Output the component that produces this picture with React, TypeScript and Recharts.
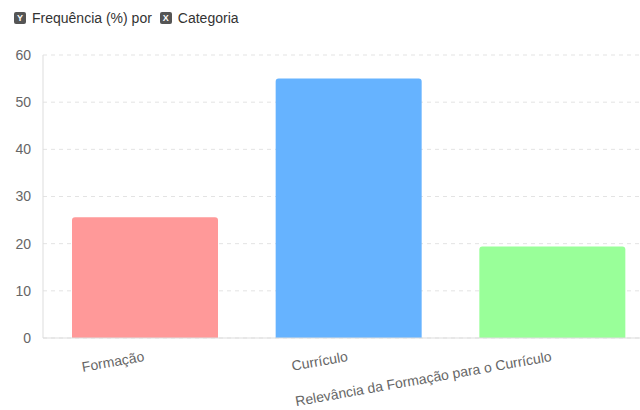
import { BarChart, Bar, XAxis, YAxis, CartesianGrid, Cell } from 'recharts';

const categories = ['Formação', 'Currículo', 'Relevância da Formação para o Currículo'];
const frequencies = [25.6, 55.0, 19.4];
const barColors = ['#ff9999', '#66b3ff', '#99ff99'];
const yTicks = [0, 10, 20, 30, 40, 50, 60];

const data = categories.map((name, i) => ({ name, value: frequencies[i] }));

const FONT = '"Liberation Sans", Arial, sans-serif';

function AxisBadge({ letter }: { letter: string }) {
  return (
    <span
      style={{
        display: 'inline-block',
        width: 12,
        height: 12,
        lineHeight: '12px',
        borderRadius: 2,
        background: '#555',
        color: '#fff',
        fontSize: 9,
        fontWeight: 'bold',
        textAlign: 'center',
        verticalAlign: 'middle',
        marginRight: 6,
      }}
    >
      {letter}
    </span>
  );
}

function SlantedTick(props: any) {
  const { x, y, payload } = props;
  return (
    <g transform={`translate(${x},${y + 15}) rotate(-10)`}>
      <text x={0} y={0} textAnchor="end" fill="#666" fontSize={14} fontFamily={FONT}>
        {payload.value}
      </text>
    </g>
  );
}

export default function App() {
  return (
    <div
      style={{
        position: 'absolute',
        left: 0,
        top: 0,
        width: 640,
        height: 410,
        overflow: 'hidden',
        background: '#fff',
        fontFamily: FONT,
      }}
    >
      <div
        style={{
          position: 'absolute',
          left: 14,
          top: 9,
          fontSize: 14,
          color: '#333',
          whiteSpace: 'nowrap',
        }}
      >
        <AxisBadge letter="Y" />
        <span style={{ verticalAlign: 'middle', marginRight: 8 }}>Frequência (%) por</span>
        <AxisBadge letter="X" />
        <span style={{ verticalAlign: 'middle' }}>Categoria</span>
      </div>
      <BarChart
        width={654}
        height={410}
        data={data}
        margin={{ top: 55, right: 0, bottom: 0, left: 0 }}
      >
        <CartesianGrid vertical={false} stroke="#e3e3e3" strokeDasharray="4 4" />
        <XAxis
          dataKey="name"
          interval={0}
          height={72}
          tickLine={false}
          axisLine={{ stroke: '#ddd' }}
          tick={<SlantedTick />}
        />
        <YAxis
          width={43}
          domain={[0, 60]}
          ticks={yTicks}
          tickLine={false}
          tickSize={0}
          tickMargin={12}
          axisLine={{ stroke: '#ddd' }}
          tick={{ fill: '#666', fontSize: 14, fontFamily: FONT }}
        />
        <Bar dataKey="value" barSize={146} radius={[3, 3, 0, 0]} isAnimationActive={false}>
          {data.map((d, i) => (
            <Cell key={d.name} fill={barColors[i]} />
          ))}
        </Bar>
      </BarChart>
    </div>
  );
}
